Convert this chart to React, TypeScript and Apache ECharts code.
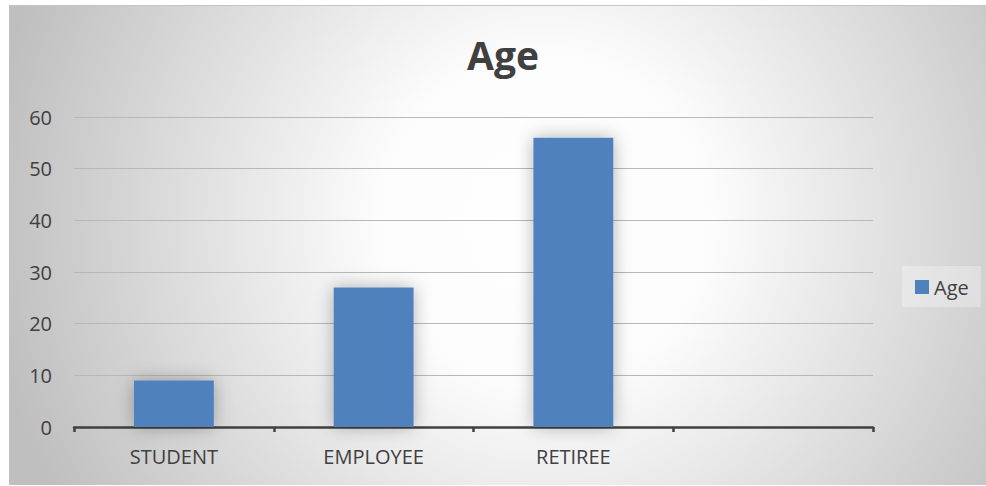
import React, { useEffect, useRef } from "react";
import * as echarts from "echarts";

const categories = ["STUDENT", "EMPLOYEE", "RETIREE", ""];
const ageValues: (number | null)[] = [9, 27, 56, null];
const seriesName = "Age";
const titleText = "Age";
const yMin = 0;
const yMax = 60;
const yInterval = 10;

const FONT = "'Open Sans', 'Noto Sans', sans-serif";

export default function App() {
  const ref = useRef<HTMLDivElement>(null);
  useEffect(() => {
    if (!ref.current) return;
    const chart = echarts.init(ref.current, null, { renderer: "svg" });
    chart.setOption({
      animation: false,
      graphic: [
        {
          type: "rect",
          z: -100,
          shape: { x: 9, y: 5, width: 990, height: 480 },
          style: {
            fill: new echarts.graphic.RadialGradient(
              545,
              220,
              560,
              [
                { offset: 0, color: "#ffffff" },
                { offset: 0.3, color: "#fcfcfc" },
                { offset: 1, color: "#bfbfbf" },
              ],
              true
            ),
          },
          silent: true,
        },
        {
          type: "line",
          z: -99,
          shape: { x1: 9, y1: 5.5, x2: 986, y2: 5.5 },
          style: { stroke: "#c4c4c4", lineWidth: 1 },
          silent: true,
        },
      ],
      title: {
        text: titleText,
        left: 467,
        top: 35,
        padding: 0,
        textStyle: {
          fontFamily: FONT,
          fontSize: 39,
          fontWeight: "bold",
          color: "#404040",
        },
      },
      legend: {
        left: 902,
        top: 266,
        orient: "vertical",
        padding: [11, 12, 10, 13],
        backgroundColor: "rgba(255,255,255,0.3)",
        itemWidth: 14,
        itemHeight: 14,
        itemGap: 5,
        icon: "rect",
        textStyle: { fontFamily: FONT, fontSize: 20, color: "#404040", padding: [0, 0, 0, 0] },
        data: [seriesName],
      },
      grid: { left: 74, right: 113, top: 117, bottom: 59, containLabel: false },
      xAxis: {
        type: "category",
        data: categories,
        axisLine: { lineStyle: { color: "#404040", width: 2.5 } },
        axisTick: { show: true, length: 5, lineStyle: { color: "#404040", width: 2.5 } },
        axisLabel: { fontFamily: FONT, fontSize: 20, color: "#404040", margin: 19 },
        splitLine: { show: false },
      },
      yAxis: {
        type: "value",
        min: yMin,
        max: yMax,
        interval: yInterval,
        axisLine: { show: false },
        axisTick: { show: false },
        axisLabel: { fontFamily: FONT, fontSize: 20, color: "#404040", margin: 22 },
        splitLine: { lineStyle: { color: "#b8b8b8", width: 1 } },
      },
      series: [
        {
          name: seriesName,
          type: "bar",
          data: ageValues,
          barWidth: "40%",
          itemStyle: {
            color: "#4f81bd",
            shadowBlur: 18,
            shadowColor: "rgba(0,0,0,0.3)",
            shadowOffsetX: 0,
            shadowOffsetY: 0,
          },
        },
      ],
    });
    return () => chart.dispose();
  }, []);
  return (
    <div
      ref={ref}
      style={{ position: "absolute", left: 0, top: 0, width: 986, height: 486 }}
    />
  );
}
